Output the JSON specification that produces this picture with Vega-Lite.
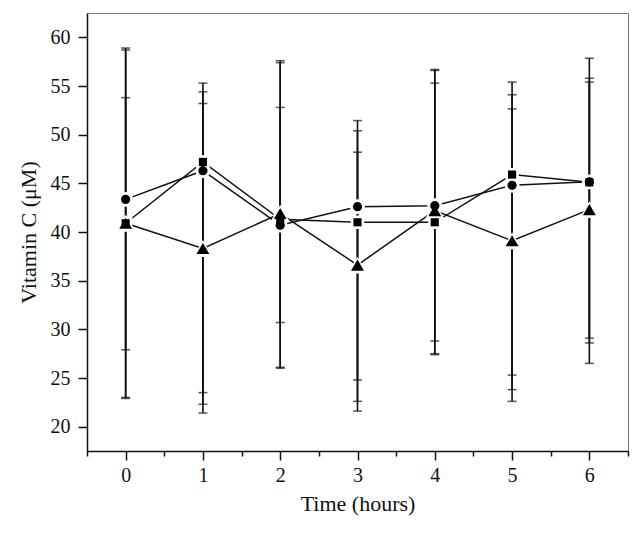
{
  "$schema": "https://vega.github.io/schema/vega-lite/v6.json",
  "width": 541,
  "height": 438,
  "autosize": "none",
  "padding": {"left": 87, "top": 13, "right": 15, "bottom": 83},
  "background": "white",
  "config": {
    "view": {"stroke": "#777", "strokeWidth": 1},
    "font": "Liberation Serif",
    "axis": {
      "labelFont": "Liberation Serif",
      "titleFont": "Liberation Serif",
      "labelFontSize": 20,
      "titleFontSize": 22,
      "titleFontWeight": "normal",
      "labelColor": "#111",
      "titleColor": "#111",
      "domainColor": "#111",
      "domainWidth": 1.5,
      "tickColor": "#111",
      "tickWidth": 1.5,
      "grid": false
    }
  },
  "datasets": {
    "vc": [
      {"series": "circle", "time": 0, "mean": 43.35, "lo": 27.9, "hi": 53.8},
      {"series": "circle", "time": 1, "mean": 46.3, "lo": 23.5, "hi": 54.4},
      {"series": "circle", "time": 2, "mean": 40.7, "lo": 26.0, "hi": 52.8},
      {"series": "circle", "time": 3, "mean": 42.6, "lo": 24.8, "hi": 51.45},
      {"series": "circle", "time": 4, "mean": 42.7, "lo": 28.8, "hi": 56.7},
      {"series": "circle", "time": 5, "mean": 44.8, "lo": 25.3, "hi": 54.1},
      {"series": "circle", "time": 6, "mean": 45.15, "lo": 29.1, "hi": 57.85},
      {"series": "square", "time": 0, "mean": 40.9, "lo": 22.9, "hi": 58.9},
      {"series": "square", "time": 1, "mean": 47.2, "lo": 22.3, "hi": 55.3},
      {"series": "square", "time": 2, "mean": 41.3, "lo": 26.1, "hi": 57.6},
      {"series": "square", "time": 3, "mean": 41.0, "lo": 22.6, "hi": 50.4},
      {"series": "square", "time": 4, "mean": 41.0, "lo": 27.4, "hi": 55.3},
      {"series": "square", "time": 5, "mean": 45.9, "lo": 23.8, "hi": 55.4},
      {"series": "square", "time": 6, "mean": 45.1, "lo": 28.6, "hi": 55.8},
      {"series": "triangle", "time": 0, "mean": 40.9, "lo": 23.0, "hi": 58.7},
      {"series": "triangle", "time": 1, "mean": 38.3, "lo": 21.4, "hi": 53.2},
      {"series": "triangle", "time": 2, "mean": 41.9, "lo": 30.7, "hi": 57.4},
      {"series": "triangle", "time": 3, "mean": 36.6, "lo": 21.6, "hi": 48.2},
      {"series": "triangle", "time": 4, "mean": 42.2, "lo": 27.5, "hi": 56.6},
      {"series": "triangle", "time": 5, "mean": 39.1, "lo": 22.6, "hi": 52.65},
      {"series": "triangle", "time": 6, "mean": 42.3, "lo": 26.5, "hi": 55.4}
    ]
  },
  "data": {"name": "vc"},
  "encoding": {
    "x": {
      "field": "time", "type": "quantitative",
      "scale": {"domain": [-0.5, 6.5], "nice": false, "zero": false},
      "axis": {
        "title": "Time (hours)",
        "values": [-0.5, 0, 0.5, 1, 1.5, 2, 2.5, 3, 3.5, 4, 4.5, 5, 5.5, 6, 6.5],
        "labelExpr": "datum.value % 1 === 0 ? format(datum.value, 'd') : ''",
        "tickSize": {"condition": {"test": "datum.value % 1 === 0", "value": 9}, "value": 5},
        "labelPadding": 5,
        "titlePadding": 8,
        "labelFlush": false,
        "labelOverlap": false
      }
    }
  },
  "layer": [
    {
      "mark": {"type": "rule", "color": "#111", "strokeWidth": 1.6},
      "encoding": {
        "y": {"field": "lo", "type": "quantitative",
          "scale": {"domain": [17.5, 62.5], "nice": false, "zero": false},
          "axis": {
            "title": "Vitamin C (μM)",
            "values": [20, 22.5, 25, 27.5, 30, 32.5, 35, 37.5, 40, 42.5, 45, 47.5, 50, 52.5, 55, 57.5, 60],
            "labelExpr": "datum.value % 5 === 0 ? format(datum.value, 'd') : ''",
            "tickSize": {"condition": {"test": "datum.value % 5 === 0", "value": 9}, "value": 5},
            "labelPadding": 8,
            "titlePadding": 10,
            "labelOverlap": false
          }
        },
        "y2": {"field": "hi"}
      }
    },
    {
      "mark": {"type": "tick", "orient": "horizontal", "color": "#111", "thickness": 1.5, "size": 9},
      "encoding": {"y": {"field": "lo", "type": "quantitative"}}
    },
    {
      "mark": {"type": "tick", "orient": "horizontal", "color": "#111", "thickness": 1.5, "size": 9},
      "encoding": {"y": {"field": "hi", "type": "quantitative"}}
    },
    {
      "mark": {"type": "line", "color": "#111", "strokeWidth": 1.5},
      "encoding": {
        "y": {"field": "mean", "type": "quantitative"},
        "detail": {"field": "series"}
      }
    },
    {
      "transform": [{"filter": "datum.series === 'circle'"}],
      "mark": {"type": "point", "shape": "circle", "filled": true, "color": "white", "opacity": 1, "size": 220},
      "encoding": {"y": {"field": "mean", "type": "quantitative"}}
    },
    {
      "transform": [{"filter": "datum.series === 'square'"}],
      "mark": {"type": "point", "shape": "square", "filled": true, "color": "white", "opacity": 1, "size": 180},
      "encoding": {"y": {"field": "mean", "type": "quantitative"}}
    },
    {
      "transform": [{"filter": "datum.series === 'triangle'"}],
      "mark": {"type": "point", "shape": "triangle-up", "filled": true, "color": "white", "opacity": 1, "size": 380},
      "encoding": {"y": {"field": "mean", "type": "quantitative"}}
    },
    {
      "transform": [{"filter": "datum.series === 'circle'"}],
      "mark": {"type": "point", "shape": "circle", "filled": true, "color": "#000", "opacity": 1, "size": 85},
      "encoding": {"y": {"field": "mean", "type": "quantitative"}}
    },
    {
      "transform": [{"filter": "datum.series === 'square'"}],
      "mark": {"type": "point", "shape": "square", "filled": true, "color": "#000", "opacity": 1, "size": 66},
      "encoding": {"y": {"field": "mean", "type": "quantitative"}}
    },
    {
      "transform": [{"filter": "datum.series === 'triangle'"}],
      "mark": {"type": "point", "shape": "triangle-up", "filled": true, "color": "#000", "opacity": 1, "size": 165},
      "encoding": {"y": {"field": "mean", "type": "quantitative"}}
    }
  ]
}
